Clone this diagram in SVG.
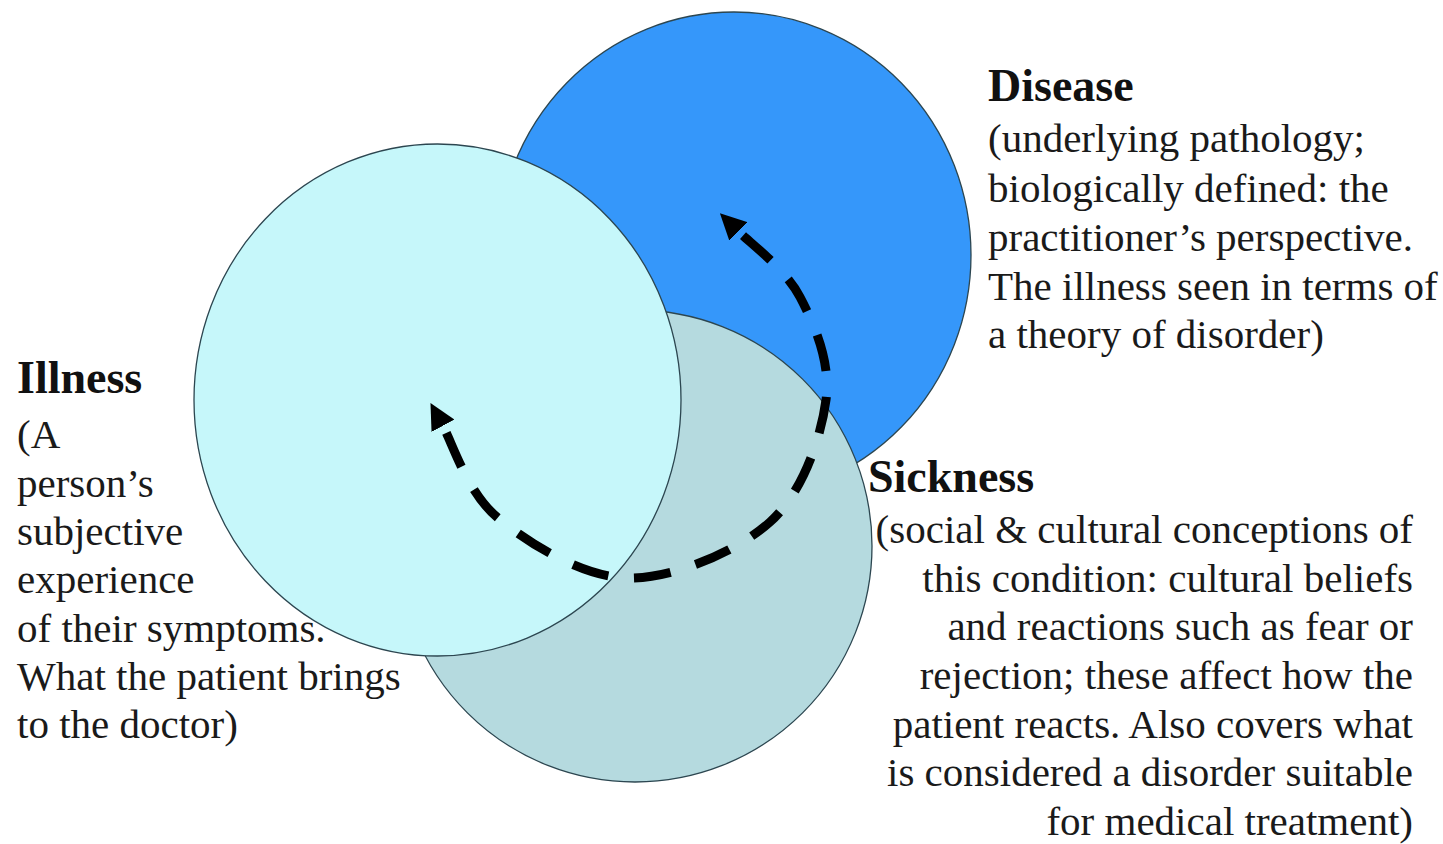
<svg xmlns="http://www.w3.org/2000/svg" width="1443" height="844" viewBox="0 0 1443 844">
<style>
.c{stroke:#2c4650;stroke-width:1.3}
.h{font-family:"Liberation Serif","Times New Roman",serif;font-weight:bold;font-size:46px;fill:#111}
.t{font-family:"Liberation Serif","Times New Roman",serif;font-size:41px;fill:#1a1a1a}
.r{text-anchor:end}
.arc{fill:none;stroke:#000;stroke-width:9;stroke-dasharray:37 26;stroke-dashoffset:53}
</style>
<defs>
<marker id="ah" markerUnits="userSpaceOnUse" viewBox="0 0 26 26" markerWidth="26" markerHeight="26" refX="2" refY="13" orient="auto-start-reverse">
<path d="M0,0 L26,13 L0,26 z" fill="#000"/>
</marker>
</defs>
<rect width="1443" height="844" fill="#fff"/>
<g id="disease">
<ellipse class="c" cx="734" cy="255" rx="237" ry="243" fill="#3597FA"/>
</g>
<g id="sickness">
<ellipse class="c" cx="635" cy="546" rx="237" ry="236" fill="#B5DADF"/>
</g>
<g id="illness">
<ellipse class="c" cx="437.5" cy="400" rx="243.5" ry="256" fill="#C6F7FA"/>
</g>
<g id="connectors">
<path class="arc" marker-start="url(#ah)" marker-end="url(#ah)" d="M442,424 C452.8,443.7 467,492.3 498,518 C529,543.7 582.7,577.3 628,578 C673.3,578.7 737,551.7 770,522 C803,492.3 821,437.5 826,400 C831,362.5 814.8,325.3 800,297 C785.2,268.7 751.2,244 737,230"/>
</g>
<g id="disease-label">
<text class="h" x="988" y="101">Disease</text>
<text class="t" x="988" y="152">(underlying pathology;</text>
<text class="t" x="988" y="202">biologically defined: the</text>
<text class="t" x="988" y="251">practitioner’s perspective.</text>
<text class="t" x="988" y="300">The illness seen in terms of</text>
<text class="t" x="988" y="348">a theory of disorder)</text>
</g>
<g id="illness-label">
<text class="h" x="17" y="393">Illness</text>
<text class="t" x="17" y="448">(A</text>
<text class="t" x="17" y="497">person’s</text>
<text class="t" x="17" y="545">subjective</text>
<text class="t" x="17" y="593">experience</text>
<text class="t" x="17" y="642">of their symptoms.</text>
<text class="t" x="17" y="690">What the patient brings</text>
<text class="t" x="17" y="738">to the doctor)</text>
</g>
<g id="sickness-label">
<text class="h" x="868" y="492">Sickness</text>
<text class="t r" x="1413" y="543">(social &amp; cultural conceptions of</text>
<text class="t r" x="1413" y="592">this condition: cultural beliefs</text>
<text class="t r" x="1413" y="640">and reactions such as fear or</text>
<text class="t r" x="1413" y="689">rejection; these affect how the</text>
<text class="t r" x="1413" y="738">patient reacts. Also covers what</text>
<text class="t r" x="1413" y="786">is considered a disorder suitable</text>
<text class="t r" x="1413" y="835">for medical treatment)</text>
</g>
</svg>
